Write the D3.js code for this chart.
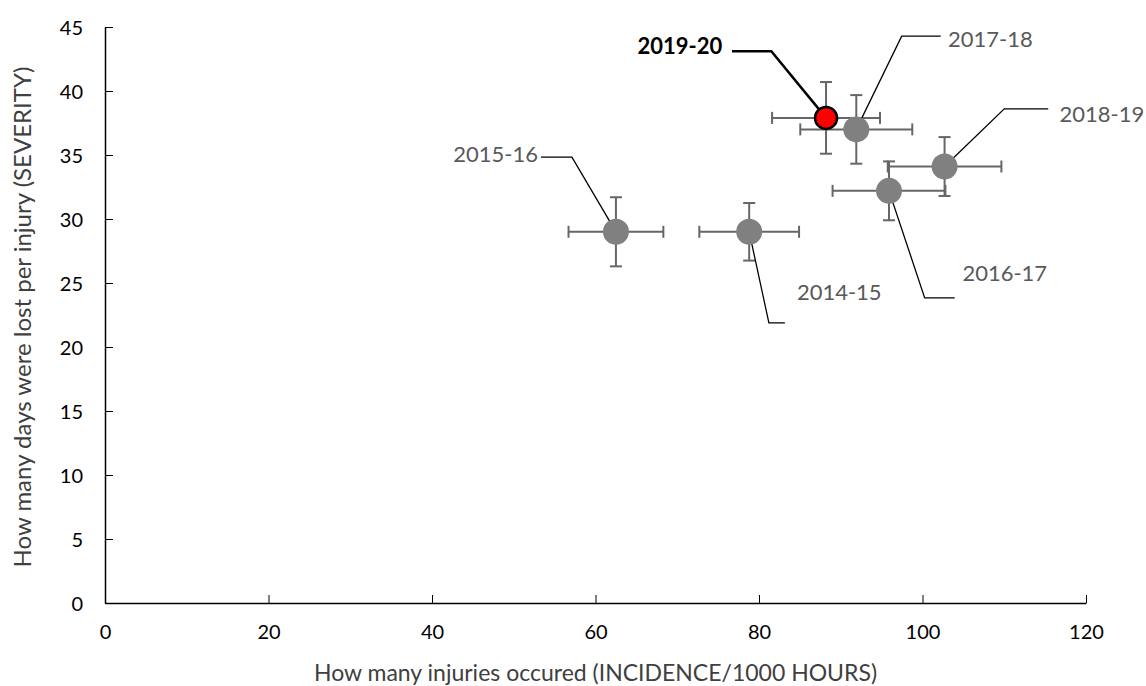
<!DOCTYPE html>
<html>
<head>
<meta charset="utf-8">
<script src="https://cdn.jsdelivr.net/npm/d3@7"></script>
<style>
  html, body { margin: 0; padding: 0; background: #fff; }
  svg { display: block; font-family: Lato, "Open Sans", sans-serif; }
</style>
</head>
<body>
<svg id="chart" width="1146" height="686"></svg>
<script>
// Seasons, injury incidence (per 1000 h) and severity (days lost per injury)
const seasons    = ["2014-15", "2015-16", "2016-17", "2017-18", "2018-19", "2019-20"];
const incidence  = [78.8, 62.5, 95.9, 91.9, 102.7, 88.2];
const incidenceErr = [6.1, 5.8, 6.9, 6.85, 6.95, 6.6];
const severity   = [29.0, 29.0, 32.2, 37.0, 34.1, 37.9];
const severityErr  = [2.25, 2.7, 2.3, 2.68, 2.3, 2.8];
const highlight  = "2019-20";

const xTicks = [0, 20, 40, 60, 80, 100, 120];
const yTicks = [0, 5, 10, 15, 20, 25, 30, 35, 40, 45];

// Callout placement in pixels relative to each point: elbow, end of the
// horizontal leader, and text anchor.
const callouts = {
  "2014-15": { elbow: [19.7, 91],   endX: 35.7,  text: [47.7, 68.3],  anchor: "start" },
  "2015-16": { elbow: [-44, -74.7], endX: -75,   text: [-78, -69.7],  anchor: "end" },
  "2016-17": { elbow: [35.7, 107],  endX: 65.7,  text: [73.4, 90],    anchor: "start" },
  "2017-18": { elbow: [45.4, -93.3], endX: 84.4, text: [91.7, -82],   anchor: "start" },
  "2018-19": { elbow: [59.7, -57.7], endX: 103.7, text: [115, -45],   anchor: "start" },
  "2019-20": { elbow: [-54.7, -66.7], endX: -94, text: [-103.7, -63.7], anchor: "end" }
};

const svg = d3.select("#chart");
const plotLeft = 105, plotRight = 1086, plotTop = 27, plotBottom = 603;

const x = d3.scaleLinear().domain([0, 120]).range([plotLeft, plotRight]);
const y = d3.scaleLinear().domain([0, 45]).range([plotBottom, plotTop]);

const data = seasons.map((s, i) => ({
  season: s, x: incidence[i], xe: incidenceErr[i], y: severity[i], ye: severityErr[i]
}));

// Axes
const xAxis = d3.axisBottom(x).tickValues(xTicks).tickSizeInner(-8).tickSizeOuter(0).tickPadding(22);
const yAxis = d3.axisLeft(y).tickValues(yTicks).tickSizeInner(-8).tickSizeOuter(0).tickPadding(22);

const gx = svg.append("g").attr("transform", `translate(0,${plotBottom})`).call(xAxis);
const gy = svg.append("g").attr("transform", `translate(${plotLeft},0)`).call(yAxis);
[gx, gy].forEach(g => {
  g.select(".domain").attr("stroke", "#000").attr("stroke-width", 1.5);
  g.selectAll(".tick line").attr("stroke", "#000").attr("stroke-width", 1);
  g.selectAll(".tick text").attr("fill", "#000").style("font-size", "20px")
    .style("font-family", "Lato, 'Open Sans', sans-serif");
});
gy.selectAll(".tick text").attr("dy", "0.36em");

// Axis titles
svg.append("text")
  .attr("x", (plotLeft + plotRight) / 2).attr("y", 681)
  .attr("text-anchor", "middle")
  .attr("fill", "#404040").style("font-size", "23px")
  .text("How many injuries occured (INCIDENCE/1000 HOURS)");

svg.append("text")
  .attr("transform", `translate(31,${(plotTop + plotBottom) / 2 + 2}) rotate(-90)`)
  .attr("text-anchor", "middle")
  .attr("fill", "#404040").style("font-size", "24px")
  .text("How many days were lost per injury (SEVERITY)");

// Error bars
const errColor = "#666";
const cap = 6;
const eb = svg.append("g").attr("stroke", errColor).attr("stroke-width", 2).attr("fill", "none");
data.forEach(d => {
  const cx = x(d.x), cy = y(d.y);
  const x0 = x(d.x - d.xe), x1 = x(d.x + d.xe);
  const y0 = y(d.y - d.ye), y1 = y(d.y + d.ye);
  eb.append("line").attr("x1", x0).attr("x2", x1).attr("y1", cy).attr("y2", cy);
  eb.append("line").attr("x1", x0).attr("x2", x0).attr("y1", cy - cap).attr("y2", cy + cap);
  eb.append("line").attr("x1", x1).attr("x2", x1).attr("y1", cy - cap).attr("y2", cy + cap);
  eb.append("line").attr("x1", cx).attr("x2", cx).attr("y1", y0).attr("y2", y1);
  eb.append("line").attr("x1", cx - cap).attr("x2", cx + cap).attr("y1", y0).attr("y2", y0);
  eb.append("line").attr("x1", cx - cap).attr("x2", cx + cap).attr("y1", y1).attr("y2", y1);
});

// Leader lines and labels
data.forEach(d => {
  const c = callouts[d.season];
  const cx = x(d.x), cy = y(d.y);
  const hi = d.season === highlight;
  const ex = cx + c.elbow[0], ey = cy + c.elbow[1];
  svg.append("polyline")
    .attr("points", `${cx},${cy} ${ex},${ey} ${cx + c.endX},${ey}`)
    .attr("fill", "none").attr("stroke", "#000")
    .attr("stroke-width", hi ? 2.5 : 1.3);
  svg.append("text")
    .attr("x", cx + c.text[0]).attr("y", cy + c.text[1])
    .attr("text-anchor", c.anchor)
    .attr("fill", hi ? "#000" : "#595959")
    .style("font-size", "22px")
    .style("font-weight", hi ? 700 : 400)
    .text(d.season);
});

// Points (highlighted season on top)
const ordered = data.slice().sort((a, b) => (a.season === highlight) - (b.season === highlight));
svg.append("g").selectAll("circle").data(ordered).join("circle")
  .attr("cx", d => x(d.x)).attr("cy", d => y(d.y))
  .attr("r", d => d.season === highlight ? 11 : 13)
  .attr("fill", d => d.season === highlight ? "#ff0000" : "#808080")
  .attr("stroke", d => d.season === highlight ? "#000" : "none")
  .attr("stroke-width", 2.5);
</script>
</body>
</html>
